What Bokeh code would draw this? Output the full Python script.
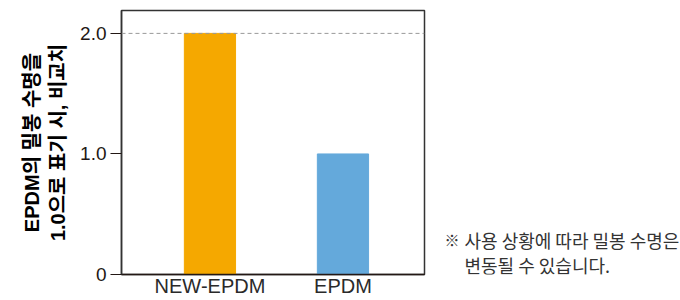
from bokeh.plotting import figure
from bokeh.layouts import row
from bokeh.models import Range1d, FixedTicker, Label, Span, ColumnDataSource
from bokeh.embed import file_html
from bokeh.resources import INLINE

categories = ["NEW-EPDM", "EPDM"]
values = [2.0, 1.0]
colors = ["#F5A800", "#64A9DB"]
y_ticks = [0, 1, 2]
y_tick_labels = ["0", "1.0", "2.0"]
ref_lines = [2.0]
y_label_lines = ["EPDM의 밀봉 수명을", "1.0으로 표기 시, 비교치"]
note_mark = "※"
note_lines = ["사용 상황에 따라 밀봉 수명은", "변동될 수 있습니다."]

TEXT = "#231815"
LATIN = "Liberation Sans, Noto Sans CJK KR"
KOREAN = "Noto Sans CJK KR"

xs = list(range(len(categories)))
src = ColumnDataSource(dict(x=xs, top=values, color=colors))

p = figure(width=436, height=300, output_backend="svg", toolbar_location=None,
           x_range=Range1d(-0.665, 1.613), y_range=Range1d(0, 2.19),
           min_border_left=121, min_border_right=12, min_border_top=10,
           min_border_bottom=26)

p.vbar(x="x", top="top", width=0.385, color="color", source=src)

for v in ref_lines:
    p.add_layout(Span(location=v, dimension="width", line_color="#9a9a9a",
                      line_dash="4 3", line_width=1))

p.xgrid.visible = False
p.ygrid.visible = False

p.outline_line_color = "#333333"
p.outline_line_width = 1.5
p.outline_line_alpha = 1.0

xa = p.xaxis[0]
xa.ticker = FixedTicker(ticks=xs)
xa.major_label_overrides = {x: c for x, c in zip(xs, categories)}
xa.major_tick_line_color = None
xa.major_tick_in = 0
xa.major_tick_out = 0
xa.minor_tick_line_color = None
xa.axis_line_color = "#231815"
xa.axis_line_width = 1.5
xa.major_label_standoff = 0
xa.major_label_text_font = LATIN
xa.major_label_text_font_size = "20px"
xa.major_label_text_color = "#2a2a2a"

ya = p.yaxis[0]
ya.ticker = FixedTicker(ticks=y_ticks)
ya.major_label_overrides = {t: l for t, l in zip(y_ticks, y_tick_labels)}
ya.minor_tick_line_color = None
ya.major_tick_in = 0
ya.major_tick_out = 11
ya.major_tick_line_color = TEXT
ya.major_tick_line_width = 1.2
ya.axis_line_color = "#333333"
ya.axis_line_width = 1.5
ya.major_label_standoff = 4
ya.major_label_text_font = LATIN
ya.major_label_text_font_size = "19px"
ya.major_label_text_color = TEXT
ya.axis_label = "\n".join(y_label_lines)
ya.axis_label_text_font = LATIN
ya.axis_label_text_font_size = "20px"
ya.axis_label_text_font_style = "bold"
ya.axis_label_text_line_height = 1.2
ya.axis_label_text_color = "#000000"
ya.axis_label_standoff = 8

note = figure(width=244, height=300, output_backend="svg", toolbar_location=None,
              x_axis_type=None, y_axis_type=None, min_border=0,
              x_range=Range1d(0, 1), y_range=Range1d(0, 1))
note.outline_line_color = None
note.xgrid.visible = False
note.ygrid.visible = False

note.add_layout(Label(x=8, y=35, x_units="screen", y_units="screen", text=note_mark,
                      text_font=KOREAN, text_font_size="15px", text_color="#333333",
                      text_baseline="alphabetic"))
for i, line in enumerate(note_lines):
    note.add_layout(Label(x=28, y=35 - 25 * i, x_units="screen", y_units="screen",
                          text=line, text_font=KOREAN, text_font_size="18px",
                          text_color="#333333", text_baseline="alphabetic"))

layout = row(p, note, spacing=0)
open("out.html", "w").write(file_html(layout, INLINE))
